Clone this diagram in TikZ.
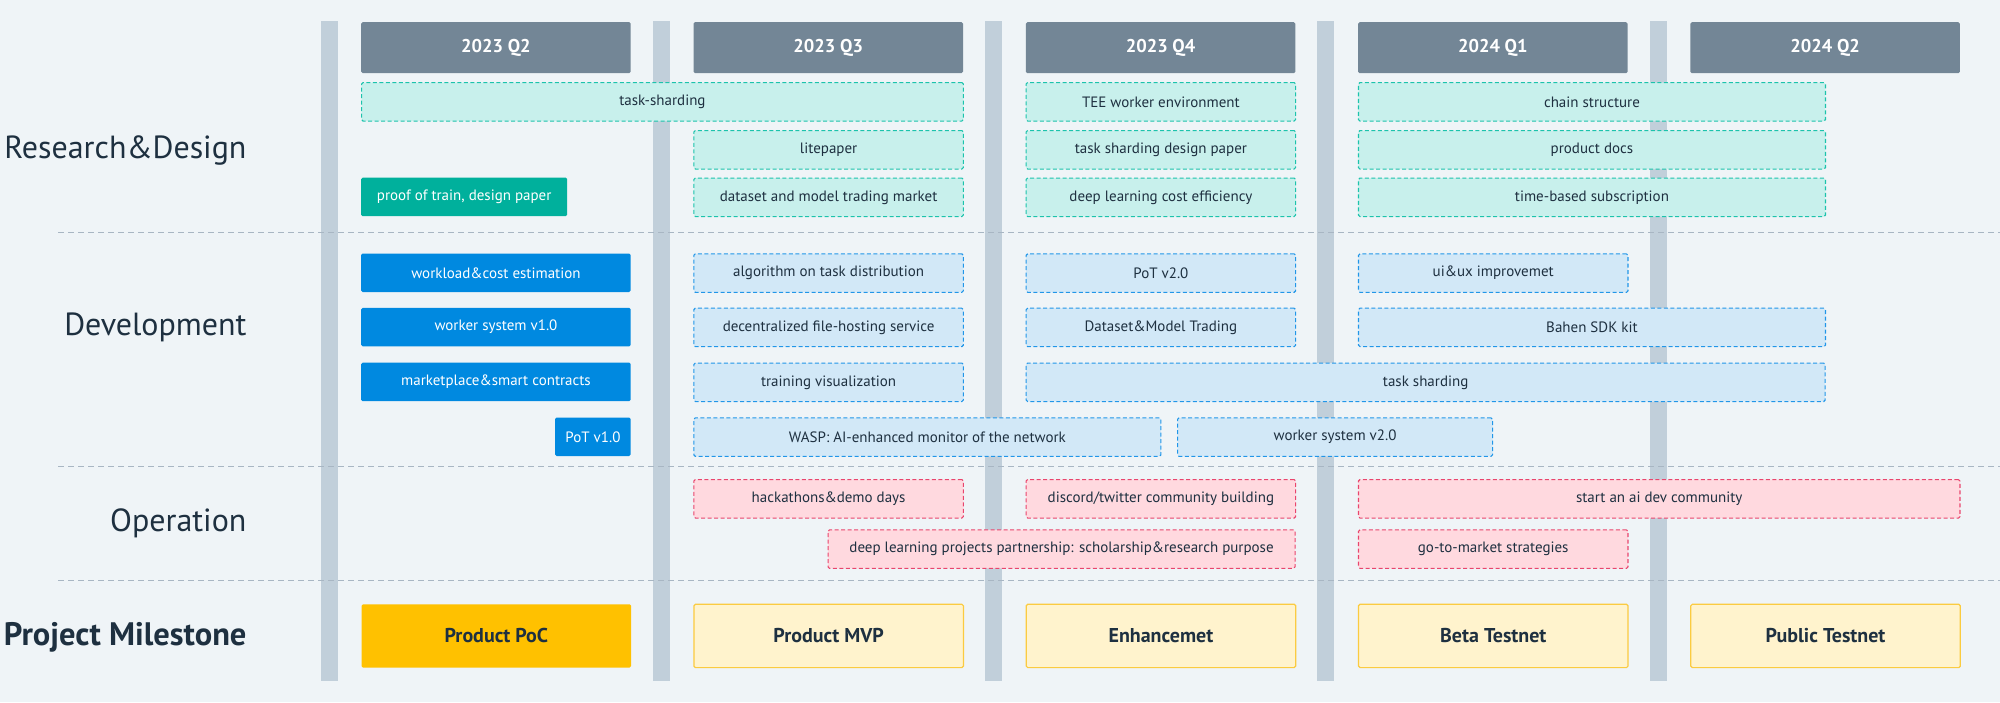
\documentclass[tikz,border=0pt]{standalone}
\usepackage{fontspec}
\setmainfont{PT Sans}
\usetikzlibrary{positioning}

\definecolor{bgc}{HTML}{EFF4F7}
\definecolor{barc}{HTML}{C1CFDA}
\definecolor{hdrc}{HTML}{738696}
\definecolor{ink}{HTML}{1E3040}
\definecolor{sepc}{HTML}{A8B6C3}
\definecolor{tealfill}{HTML}{C8F0EC}
\definecolor{tealline}{HTML}{1CC3AC}
\definecolor{tealsolid}{HTML}{00B09C}
\definecolor{bluefill}{HTML}{D2E8F7}
\definecolor{blueline}{HTML}{2196E8}
\definecolor{bluesolid}{HTML}{0089E0}
\definecolor{pinkfill}{HTML}{FFD9DF}
\definecolor{pinkline}{HTML}{E9456D}
\definecolor{yelsolid}{HTML}{FFC100}
\definecolor{yelfill}{HTML}{FFF3CD}
\definecolor{yelline}{HTML}{FBCB40}

\begin{document}
\begin{tikzpicture}[x=1pt,y=-1pt,
  box/.style={rectangle,rounded corners=1.5pt,anchor=north west,inner sep=0pt,
    minimum width=269.5pt,minimum height=38.5pt,text=ink,font=\fontsize{15}{17}\selectfont},
  dashbox/.style={box,line width=1.1pt,dash pattern=on 4pt off 2.5pt},
  hdrbox/.style={box,fill=hdrc,minimum height=51pt,text=white,font=\fontsize{18.5}{21}\selectfont\bfseries},
  rdtask/.style={dashbox,fill=tealfill,draw=tealline},
  rddone/.style={box,fill=tealsolid,text=white},
  devtask/.style={dashbox,fill=bluefill,draw=blueline},
  devdone/.style={box,fill=bluesolid,text=white},
  optask/.style={dashbox,fill=pinkfill,draw=pinkline},
  msbox/.style={box,minimum height=63.3pt,fill=yelfill,draw=yelline,line width=1.2pt,font=\fontsize{20}{23}\selectfont\bfseries},
  lane/.style={anchor=east,text=ink,font=\fontsize{32}{36}\selectfont},
  sep/.style={sepc,line width=1pt,dash pattern=on 6pt off 4pt}]

\useasboundingbox (0,0) rectangle (2000,702);
\fill[bgc] (0,0) rectangle (2000,702);

% quarter bars
\fill[barc] (320.5,21) rectangle (337.5,680.7);
\fill[barc] (652.8,21) rectangle (669.8,680.7);
\fill[barc] (985.1,21) rectangle (1002.1,680.7);
\fill[barc] (1317.4,21) rectangle (1334.4,680.7);
\fill[barc] (1649.7,21) rectangle (1666.7,680.7);

% lane separators
\draw[sep] (58,232.7) -- (2000,232.7);
\draw[sep] (58,466.7) -- (2000,466.7);
\draw[sep] (58,580) -- (2000,580);

% lane titles
\node[lane] (lrd) at (250,150) {Research\&Design};
\node[lane] (ldev) at (250,327) {Development};
\node[lane] (lop) at (250,523) {Operation};
\node[lane,font=\fontsize{32.5}{36}\selectfont\bfseries] (lms) at (250,637) {Project Milestone};

% quarters
\node[hdrbox] (q1) at (361,22) {2023 Q2};
\node[hdrbox] (q2) at (693.3,22) {2023 Q3};
\node[hdrbox] (q3) at (1025.6,22) {2023 Q4};
\node[hdrbox] (q4) at (1357.9,22) {2024 Q1};
\node[hdrbox] (q5) at (1690.2,22) {2024 Q2};

% research & design
\node[rdtask,minimum width=601.8pt] (rdshard) at (361,82) {task-sharding};
\node[rddone,minimum width=206pt] (rdpot) at (361,177.5) {proof of train, design paper};
\node[rdtask] (rdlite) at (693.3,130) {litepaper};
\node[rdtask] (rdmarket) at (693.3,177.5) {dataset and model trading market};
\node[rdtask] (rdtee) at (1025.6,82) {TEE worker environment};
\node[rdtask] (rdpaper) at (1025.6,130) {task sharding design paper};
\node[rdtask] (rdcost) at (1025.6,177.5) {deep learning cost efficiency};
\node[rdtask,minimum width=467pt] (rdchain) at (1357.9,82) {chain structure};
\node[rdtask,minimum width=467pt] (rddocs) at (1357.9,130) {product docs};
\node[rdtask,minimum width=467pt] (rdsub) at (1357.9,177.5) {time-based subscription};

% development
\node[devdone] (dvcost) at (361,253.3) {workload\&cost estimation};
\node[devdone] (dvworker) at (361,307.6) {worker system v1.0};
\node[devdone] (dvmarket) at (361,362.5) {marketplace\&smart contracts};
\node[devdone,minimum width=75.5pt] (dvpot) at (555,417.3) {PoT v1.0};
\node[devtask] (dvalgo) at (693.3,253.3) {algorithm on task distribution};
\node[devtask] (dvfile) at (693.3,307.6) {decentralized file-hosting service};
\node[devtask] (dvvis) at (693.3,362.5) {training visualization};
\node[devtask,minimum width=467pt] (dvwasp) at (693.3,417.3) {WASP: AI-enhanced monitor of the network};
\node[devtask] (dvpot2) at (1025.6,253.3) {PoT v2.0};
\node[devtask] (dvtrade) at (1025.6,307.6) {Dataset\&Model Trading};
\node[devtask,minimum width=799pt] (dvshard) at (1025.6,362.5) {task sharding};
\node[devtask,minimum width=315pt] (dvworker2) at (1177,417.3) {worker system v2.0};
\node[devtask] (dvui) at (1357.9,253.3) {ui\&ux improvemet};
\node[devtask,minimum width=467pt] (dvsdk) at (1357.9,307.6) {Bahen SDK kit};

% operation
\node[optask] (ophack) at (693.3,479) {hackathons\&demo days};
\node[optask] (opsocial) at (1025.6,479) {discord/twitter community building};
\node[optask,minimum width=601.5pt] (opcomm) at (1357.9,479) {start an ai dev community};
\node[optask,minimum width=467pt] (oppart) at (827.5,529.3) {deep learning projects partnership: scholarship\&research purpose};
\node[optask] (opgtm) at (1357.9,529.3) {go-to-market strategies};

% milestones
\node[msbox,fill=yelsolid,draw=none] (mspoc) at (361,603.7) {Product PoC};
\node[msbox] (msmvp) at (693.3,603.7) {Product MVP};
\node[msbox] (msenh) at (1025.6,603.7) {Enhancemet};
\node[msbox] (msbeta) at (1357.9,603.7) {Beta Testnet};
\node[msbox] (mspub) at (1690.2,603.7) {Public Testnet};
\end{tikzpicture}
\end{document}
